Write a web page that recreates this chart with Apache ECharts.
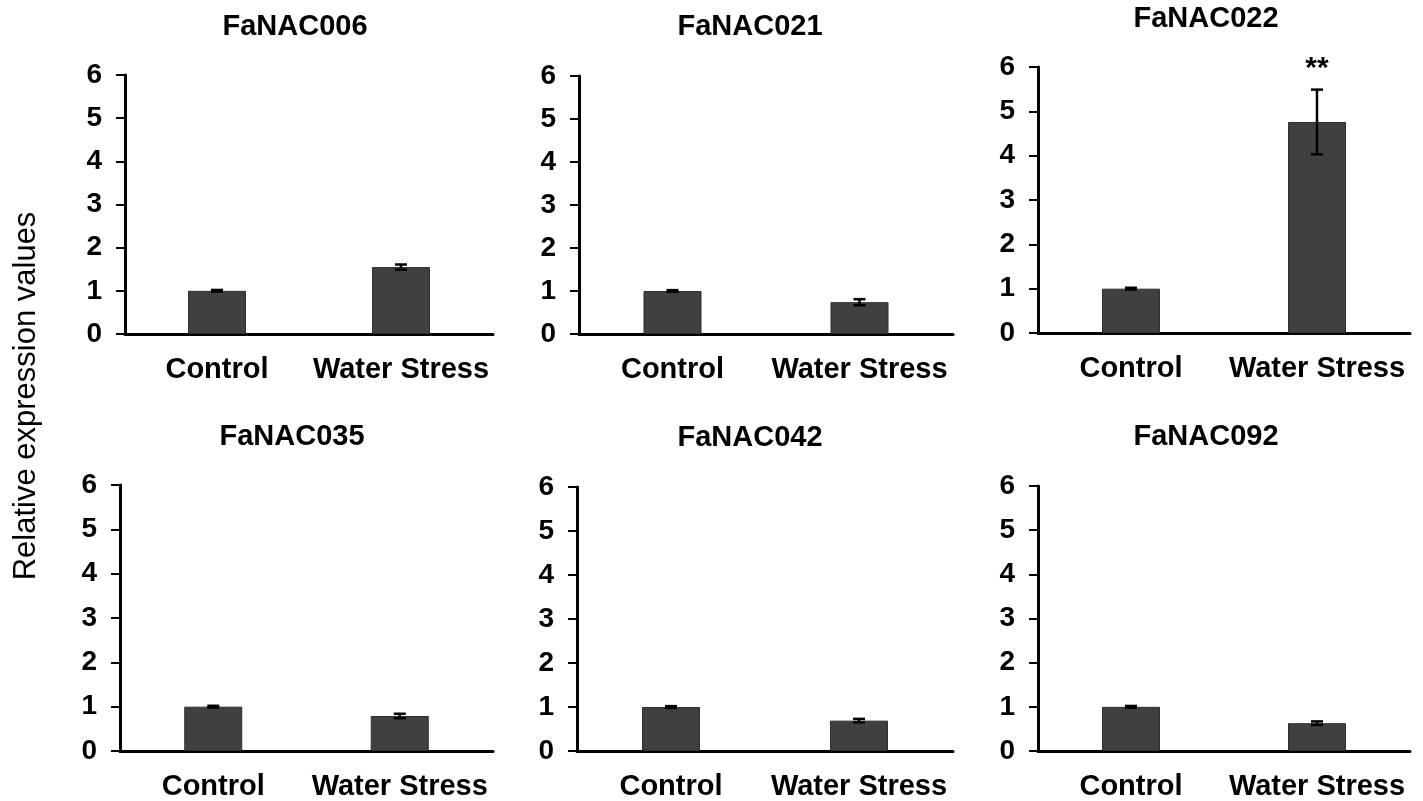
<!DOCTYPE html>
<html>
<head>
<meta charset="utf-8">
<script src="https://cdn.jsdelivr.net/npm/echarts@6/dist/echarts.min.js"></script>
<style>
html,body{margin:0;padding:0;background:#fff;}
#chart{width:1423px;height:801px;}
</style>
</head>
<body>
<div id="chart"></div>
<script>
// ---- data ----
var categories = ['Control', 'Water Stress'];
var genes = ['FaNAC006', 'FaNAC021', 'FaNAC022', 'FaNAC035', 'FaNAC042', 'FaNAC092'];
var controlValues = [1.00, 1.00, 1.00, 1.00, 1.00, 1.00];
var stressValues  = [1.55, 0.74, 4.76, 0.79, 0.69, 0.63];
var controlErrors = [0.02, 0.02, 0.02, 0.02, 0.02, 0.02];
var stressErrors  = [0.06, 0.07, 0.73, 0.05, 0.04, 0.04];
var significance  = ['', '', '**', '', '', ''];
var yTicks = [0, 1, 2, 3, 4, 5, 6];
var yAxisName = 'Relative expression values';

// ---- layout (px) ----
var grids = [
  {left: 125, top: 75, width: 368, height: 259},
  {left: 579, top: 76, width: 374, height: 258},
  {left: 1038, top: 67, width: 372, height: 266},
  {left: 120, top: 485, width: 373, height: 268},
  {left: 577, top: 487, width: 376, height: 266},
  {left: 1038, top: 486, width: 372, height: 267}
];
var titlePos = [[295, 27], [750, 27], [1206, 19], [292, 437], [750, 438], [1206, 437]];

var FONT = '"Liberation Sans", Arial, sans-serif';
var option = {
  backgroundColor: '#fff',
  animation: false,
  grid: [], xAxis: [], yAxis: [], series: [], graphic: []
};

genes.forEach(function (g, i) {
  var gr = grids[i];
  option.grid.push({left: gr.left, top: gr.top, width: gr.width, height: gr.height, containLabel: false});
  option.xAxis.push({
    type: 'category', gridIndex: i, data: categories, boundaryGap: true,
    axisLine: {show: true, lineStyle: {color: '#000', width: 3}},
    axisTick: {show: false},
    axisLabel: {color: '#000', fontFamily: FONT, fontWeight: 'bold', fontSize: 29, margin: 21, interval: 0}
  });
  option.yAxis.push({
    type: 'value', gridIndex: i, min: yTicks[0], max: yTicks[yTicks.length - 1], interval: 1,
    splitLine: {show: false},
    axisLine: {show: true, lineStyle: {color: '#000', width: 3}},
    axisTick: {show: true, inside: false, length: 9, lineStyle: {color: '#000', width: 2}},
    axisLabel: {color: '#000', fontFamily: FONT, fontWeight: 'bold', fontSize: 28, margin: 23}
  });
  option.series.push({
    type: 'bar', xAxisIndex: i, yAxisIndex: i, barWidth: 58,
    data: [controlValues[i], stressValues[i]],
    itemStyle: {color: '#404040', borderColor: '#2e2e2e', borderWidth: 1},
    silent: true
  });
  option.series.push({
    type: 'custom', xAxisIndex: i, yAxisIndex: i, silent: true, z: 5,
    data: [[0, controlValues[i], controlErrors[i]], [1, stressValues[i], stressErrors[i]]],
    encode: {x: 0, y: 1},
    renderItem: function (params, api) {
      var x = api.value(0), v = api.value(1), e = api.value(2);
      var sig = significance[i] && params.dataIndex === 1 ? significance[i] : '';
      var hi = api.coord([x, v + e]);
      var lo = api.coord([x, v - e]);
      var cap = 6;
      var st = {stroke: '#000', lineWidth: 2.5};
      var children = [
        {type: 'line', shape: {x1: hi[0], y1: hi[1], x2: lo[0], y2: lo[1]}, style: st},
        {type: 'line', shape: {x1: hi[0] - cap, y1: hi[1], x2: hi[0] + cap, y2: hi[1]}, style: st},
        {type: 'line', shape: {x1: lo[0] - cap, y1: lo[1], x2: lo[0] + cap, y2: lo[1]}, style: st}
      ];
      if (sig) {
        children.push({type: 'text', x: hi[0], y: hi[1] - 6,
          style: {text: sig, fill: '#000', font: 'bold 30px ' + FONT, textAlign: 'center', textVerticalAlign: 'bottom'}});
      }
      return {type: 'group', children: children};
    }
  });
  option.graphic.push({
    type: 'text', x: titlePos[i][0], y: titlePos[i][1],
    style: {text: g, fill: '#000', font: 'bold 29px ' + FONT, textAlign: 'center', textVerticalAlign: 'middle'}
  });
});

option.graphic.push({
  type: 'text', x: 26, y: 396, rotation: Math.PI / 2,
  style: {text: yAxisName, fill: '#000', font: '31px ' + FONT, textAlign: 'center', textVerticalAlign: 'middle'}
});

var chart = echarts.init(document.getElementById('chart'), null, {renderer: 'canvas'});
chart.setOption(option);
</script>
</body>
</html>
